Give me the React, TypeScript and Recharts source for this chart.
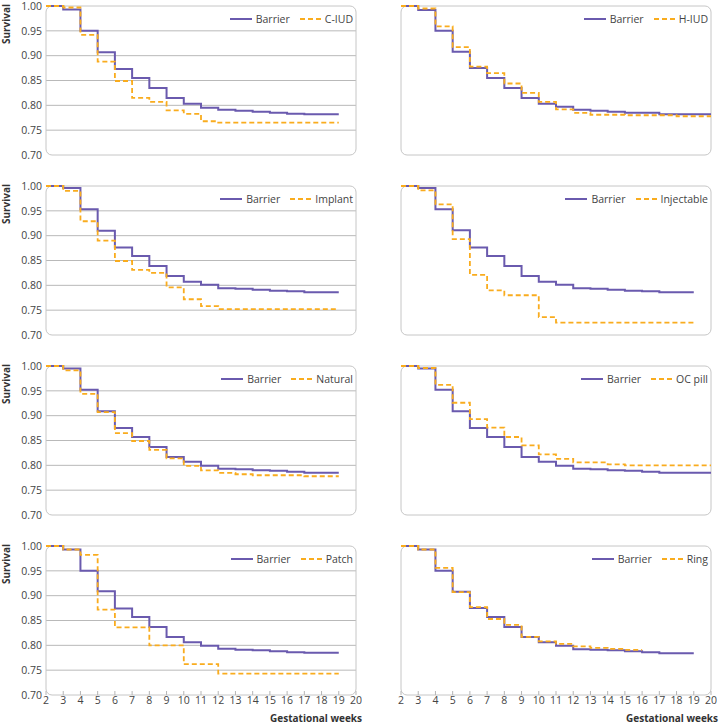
import React from 'react';
import { LineChart, Line, XAxis, YAxis, CartesianGrid, ReferenceArea } from 'recharts';

// weeks on the x axis (gestational weeks)
const weeks = [2, 3, 4, 5, 6, 7, 8, 9, 10, 11, 12, 13, 14, 15, 16, 17, 18, 19, 20];
const yTicks = [0.7, 0.75, 0.8, 0.85, 0.9, 0.95, 1.0];
const gridValues = [0.75, 0.8, 0.85, 0.9, 0.95];

// survival estimates, one value per week starting at week 2
const barrierCIUD = [1.0, 0.993, 0.95, 0.907, 0.873, 0.855, 0.835, 0.815, 0.803, 0.795, 0.791, 0.789, 0.787, 0.785, 0.783, 0.782, 0.782, 0.782];
const cIUD = [1.0, 0.997, 0.942, 0.888, 0.849, 0.815, 0.807, 0.79, 0.783, 0.768, 0.765, 0.765, 0.765, 0.765, 0.765, 0.765, 0.765, 0.765];

const barrierHIUD = [1.0, 0.992, 0.95, 0.908, 0.875, 0.855, 0.835, 0.815, 0.803, 0.797, 0.791, 0.789, 0.787, 0.785, 0.785, 0.782, 0.782, 0.782, 0.782];
const hIUD = [1.0, 0.995, 0.959, 0.917, 0.878, 0.865, 0.844, 0.825, 0.807, 0.792, 0.785, 0.781, 0.781, 0.78, 0.78, 0.78, 0.778, 0.778, 0.778];

const barrierImplant = [1.0, 0.996, 0.953, 0.91, 0.876, 0.859, 0.839, 0.819, 0.807, 0.801, 0.794, 0.793, 0.791, 0.789, 0.788, 0.786, 0.786, 0.786];
const implant = [1.0, 0.99, 0.929, 0.89, 0.849, 0.831, 0.825, 0.796, 0.772, 0.758, 0.752, 0.752, 0.752, 0.752, 0.752, 0.752, 0.752, 0.752];

const barrierInjectable = [1.0, 0.996, 0.953, 0.911, 0.876, 0.859, 0.839, 0.819, 0.807, 0.801, 0.794, 0.793, 0.791, 0.789, 0.788, 0.786, 0.786, 0.786];
const injectable = [1.0, 0.991, 0.963, 0.893, 0.821, 0.79, 0.78, 0.78, 0.736, 0.725, 0.725, 0.725, 0.725, 0.725, 0.725, 0.725, 0.725, 0.725];

const barrierNatural = [1.0, 0.995, 0.952, 0.909, 0.875, 0.857, 0.837, 0.817, 0.807, 0.799, 0.793, 0.792, 0.79, 0.789, 0.787, 0.785, 0.785, 0.785];
const natural = [1.0, 0.991, 0.944, 0.907, 0.865, 0.849, 0.831, 0.814, 0.799, 0.79, 0.785, 0.782, 0.78, 0.78, 0.78, 0.778, 0.778, 0.778];

const barrierOCPill = [1.0, 0.995, 0.952, 0.909, 0.875, 0.857, 0.837, 0.817, 0.807, 0.799, 0.793, 0.792, 0.79, 0.789, 0.787, 0.785, 0.785, 0.785, 0.785];
const ocPill = [1.0, 0.996, 0.962, 0.926, 0.893, 0.876, 0.857, 0.84, 0.822, 0.813, 0.806, 0.806, 0.802, 0.8, 0.8, 0.8, 0.8, 0.8, 0.8];

const barrierPatch = [1.0, 0.993, 0.95, 0.909, 0.874, 0.857, 0.837, 0.817, 0.806, 0.799, 0.793, 0.791, 0.79, 0.788, 0.786, 0.785, 0.785, 0.785];
const patch = [1.0, 0.993, 0.982, 0.872, 0.836, 0.836, 0.8, 0.8, 0.762, 0.762, 0.743, 0.743, 0.743, 0.743, 0.743, 0.743, 0.743, 0.743];

const barrierRing = [1.0, 0.993, 0.95, 0.908, 0.875, 0.857, 0.837, 0.817, 0.806, 0.799, 0.792, 0.791, 0.79, 0.788, 0.786, 0.784, 0.784, 0.784];
const ring = [1.0, 0.993, 0.956, 0.907, 0.877, 0.853, 0.841, 0.817, 0.808, 0.803, 0.798, 0.795, 0.793, 0.791, 0.791];

const PURPLE = '#6A5AAE';
const ORANGE = '#F9AC1E';
const FONT = '"Open Sans", Lato, "Noto Sans", sans-serif';
const TICK_FONT = 10.5;

const buildRows = (barrier: number[], other: number[]) =>
  weeks.map((w, i) => ({
    week: w,
    barrier: i < barrier.length ? barrier[i] : null,
    other: i < other.length ? other[i] : null,
  }));

const panels = [
  { name: 'C-IUD', data: buildRows(barrierCIUD, cIUD) },
  { name: 'H-IUD', data: buildRows(barrierHIUD, hIUD) },
  { name: 'Implant', data: buildRows(barrierImplant, implant) },
  { name: 'Injectable', data: buildRows(barrierInjectable, injectable) },
  { name: 'Natural', data: buildRows(barrierNatural, natural) },
  { name: 'OC pill', data: buildRows(barrierOCPill, ocPill) },
  { name: 'Patch', data: buildRows(barrierPatch, patch) },
  { name: 'Ring', data: buildRows(barrierRing, ring) },
];

const plotTops = [6, 186, 366, 546];
const PLOT_H = 149;
const CHART_W = 362;
const MARGIN = { top: 9, right: 6, left: 0, bottom: 0 };

const LegendBox: React.FC<{ name: string }> = ({ name }) => {
  const itemStyle: React.CSSProperties = { display: 'flex', alignItems: 'center', gap: 4 };
  return (
    <div
      style={{
        position: 'absolute',
        right: MARGIN.right + 3,
        top: MARGIN.top + 6,
        display: 'flex',
        gap: 10,
        fontFamily: FONT,
        fontSize: 10.5,
        color: '#444',
        lineHeight: '14px',
      }}
    >
      <div style={itemStyle}>
        <svg width={22} height={4}>
          <line x1={0} y1={2} x2={22} y2={2} stroke={PURPLE} strokeWidth={2} />
        </svg>
        <span>Barrier</span>
      </div>
      <div style={itemStyle}>
        <svg width={21} height={4}>
          <line x1={0} y1={2} x2={21} y2={2} stroke={ORANGE} strokeWidth={2} strokeDasharray="5 3" />
        </svg>
        <span>{name}</span>
      </div>
    </div>
  );
};

const Panel: React.FC<{ name: string; data: any[]; row: number; col: number }> = ({ name, data, row, col }) => {
  const showX = row === 3;
  const showY = col === 0;
  return (
    <div style={{ position: 'absolute', left: col === 0 ? 0 : 355, top: plotTops[row] - MARGIN.top }}>
      <LineChart width={CHART_W} height={MARGIN.top + PLOT_H + 30} data={data} margin={MARGIN}>
        <CartesianGrid vertical={false} horizontalValues={gridValues} stroke="#b9b9b9" />
        <ReferenceArea
          x1={2}
          x2={20}
          y1={0.7}
          y2={1}
          ifOverflow="visible"
          shape={(p: any) => (
            <rect x={p.x} y={p.y} width={p.width} height={p.height} rx={6} fill="none" stroke="#c6c6c6" strokeWidth={1} />
          )}
        />
        <XAxis
          dataKey="week"
          type="number"
          domain={[2, 20]}
          ticks={weeks}
          interval={0}
          axisLine={false}
          tickLine={{ stroke: '#b5b5b5' }}
          tickSize={-4}
          tickMargin={6}
          height={30}
          tick={showX ? { fill: '#444', fontSize: TICK_FONT, fontFamily: FONT } : false}
        />
        <YAxis
          type="number"
          domain={[0.7, 1]}
          ticks={yTicks}
          width={46}
          axisLine={false}
          tickLine={false}
          tickSize={0}
          tickMargin={4}
          tickFormatter={(v: number) => v.toFixed(2)}
          tick={showY ? { fill: '#444', fontSize: TICK_FONT, fontFamily: FONT } : false}
        />
        <Line type="stepAfter" dataKey="barrier" stroke={PURPLE} strokeWidth={2} dot={false} isAnimationActive={false} />
        <Line
          type="stepAfter"
          dataKey="other"
          stroke={ORANGE}
          strokeWidth={1.8}
          strokeDasharray="5 3"
          dot={false}
          isAnimationActive={false}
        />
      </LineChart>
      <LegendBox name={name} />
    </div>
  );
};

export default function App() {
  const survivalStyle = (top: number): React.CSSProperties => ({
    position: 'absolute',
    left: 0,
    top: top - 2,
    height: 60,
    width: 13,
    writingMode: 'vertical-rl',
    transform: 'rotate(180deg)',
    textAlign: 'end',
    fontFamily: FONT,
    fontWeight: 700,
    fontSize: 10,
    color: '#333',
    lineHeight: '13px',
  });
  const xTitleStyle = (right: number): React.CSSProperties => ({
    position: 'absolute',
    left: right - 150,
    width: 150,
    top: 711,
    textAlign: 'right',
    fontFamily: FONT,
    fontWeight: 700,
    fontSize: 10,
    color: '#333',
    lineHeight: '14px',
  });
  return (
    <div style={{ position: 'absolute', left: 0, top: 0, width: 719, height: 726, background: '#fff', overflow: 'hidden' }}>
      {panels.map((p, i) => (
        <Panel key={p.name} name={p.name} data={p.data} row={Math.floor(i / 2)} col={i % 2} />
      ))}
      {plotTops.map((t) => (
        <div key={t} style={survivalStyle(t)}>
          Survival
        </div>
      ))}
      <div style={xTitleStyle(362)}>Gestational weeks</div>
      <div style={xTitleStyle(718)}>Gestational weeks</div>
    </div>
  );
}
